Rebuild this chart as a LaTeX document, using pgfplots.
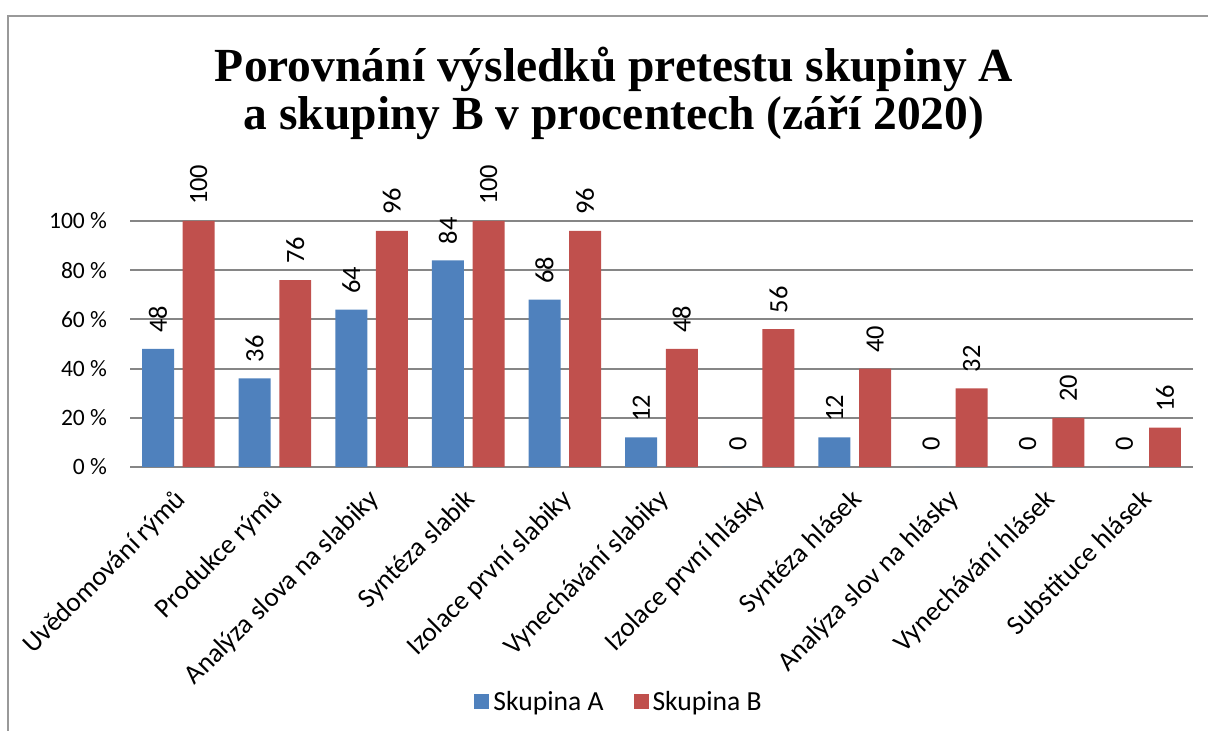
\documentclass[border=0pt]{standalone}
\usepackage{fontspec}
\setmainfont{Carlito}
\newfontfamily\titlefont{Liberation Serif}
\usepackage{pgfplots}
\pgfplotsset{compat=1.18}
\definecolor{barA}{HTML}{4F81BD}
\definecolor{barB}{HTML}{C0504D}
\definecolor{gridgray}{HTML}{868686}
\definecolor{framegray}{HTML}{999999}

\newcommand{\ticksize}{\fontsize{11.75}{14}\selectfont}
\newcommand{\labsize}{\fontsize{13.2}{15}\selectfont}
\newcommand{\catsize}{\fontsize{13.6}{15}\selectfont}
\newcommand{\legsize}{\fontsize{13.8}{15}\selectfont}

\begin{document}
\begin{tikzpicture}
% canvas 1208x731 px at 0.5pt per px
\useasboundingbox (0,0) rectangle (604pt,365.5pt);
\draw[framegray, line width=1pt] (4pt,0) -- (4pt,357.5pt) -- (604pt,357.5pt);

% title
\node[anchor=base, inner sep=0pt] at (307pt,324.5pt)
  {\titlefont\bfseries\fontsize{23.75}{24}\selectfont Porovnání výsledků pretestu skupiny A};
\node[anchor=base, inner sep=0pt] at (307pt,300.5pt)
  {\titlefont\bfseries\fontsize{23.75}{24}\selectfont a skupiny B v procentech (září 2020)};

\begin{axis}[
  at={(65pt,132pt)}, anchor=south west,
  scale only axis, width=531.5pt, height=123pt,
  xmin=-0.5, xmax=10.5, ymin=0, ymax=100,
  clip=false,
  /pgf/number format/assume math mode=true,
  axis line style={draw=none},
  major tick length=0pt,
  ymajorgrids,
  major grid style={draw=gridgray, line width=1pt},
  ytick={0,20,40,60,80,100},
  yticklabels={0 \%,20 \%,40 \%,60 \%,80 \%,100 \%},
  yticklabel style={font=\ticksize, xshift=-8pt},
  xtick={0,...,10},
  xticklabels={Uvědomování rýmů, Produkce rýmů, Analýza slova na slabiky,
    Syntéza slabik, Izolace první slabiky, Vynechávání slabiky,
    Izolace první hlásky, Syntéza hlásek, Analýza slov na hlásky,
    Vynechávání hlásek, Substituce hlásek},
  xticklabel style={font=\catsize, yshift=-10pt, xshift=-2.5pt, rotate=45, anchor=north east, inner sep=0pt},
  ybar, bar width=0.331,
  nodes near coords,
  every node near coord/.append style={font=\labsize, rotate=90, anchor=west, xshift=4.5pt},
  legend columns=2,
  legend style={at={(0.461,-0.955)}, anchor=center, draw=none, font=\legsize,
    /tikz/every even column/.append style={column sep=13pt}},
  legend image code/.code={\fill[#1] (0pt,-3.75pt) rectangle (7.5pt,3.75pt);},
]
\addplot[fill=barA, draw=none, bar shift=-0.21]
  coordinates {(0,48) (1,36) (2,64) (3,84) (4,68) (5,12) (6,0) (7,12) (8,0) (9,0) (10,0)};
\addlegendentry{Skupina A}
\addplot[fill=barB, draw=none, bar shift=0.21]
  coordinates {(0,100) (1,76) (2,96) (3,100) (4,96) (5,48) (6,56) (7,40) (8,32) (9,20) (10,16)};
\addlegendentry{Skupina B}
\end{axis}
\end{tikzpicture}
\end{document}
